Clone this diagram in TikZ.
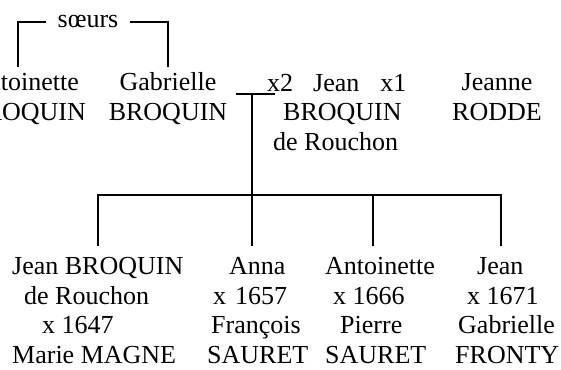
\documentclass[tikz,border=0pt]{standalone}
\usepackage{fontspec}
\setmainfont{Liberation Serif}
\begin{document}
\begin{tikzpicture}[x=1pt,y=-1pt,
  txt/.style={inner sep=0pt,font=\fontsize{26pt}{29.5pt}\selectfont},
  ln/.style={line width=1.1pt}]
\useasboundingbox (0,0) rectangle (561,369);
\clip (0,0) rectangle (561,369);
% top row (base anchor = last line's baseline)
\node[txt,anchor=base] (soeurs) at (88,28) {sœurs};
\node[txt,align=right,anchor=base east] (ant) at (86,120) {Antoinette\rule{7pt}{0pt}\\BROQUIN};
\node[txt,align=center,anchor=base] (gab) at (168,120) {Gabrielle\\BROQUIN};
\node[txt,align=left,anchor=base west] (jean) at (267,150) {x2\hspace{20pt}Jean\hspace{21pt}x1\\\rule{16pt}{0pt}BROQUIN\\\rule{6pt}{0pt}de Rouchon};
\node[txt,align=center,anchor=base] (jeanne) at (497,120) {Jeanne\\RODDE};
% bottom row
\node[txt,align=left,anchor=base west] (c1) at (12,363) {Jean BROQUIN\\\rule{12pt}{0pt}de Rouchon\\\rule{30pt}{0pt}x 1647\\Marie MAGNE};
\node[txt,align=left,anchor=base west] (c2) at (207,363) {\rule{22pt}{0pt}Anna\\\rule{6pt}{0pt}x\hspace{9pt}1657\\\rule{4pt}{0pt}François\\SAURET};
\node[txt,align=left,anchor=base west] (c3) at (325,363) {Antoinette\\\rule{8pt}{0pt}x 1666\\\rule{15pt}{0pt}Pierre\\SAURET};
\node[txt,align=left,anchor=base west] (c4) at (455,363) {\rule{22pt}{0pt}Jean\\\rule{12pt}{0pt}x 1671\\\rule{3pt}{0pt}Gabrielle\\FRONTY};
% connector points
\coordinate (antTop) at (18,67);
\coordinate (gabTop) at (168,67);
\coordinate (m1) at (236,94);
\coordinate (m2) at (275,94);
\coordinate (mid) at (252,94);
\coordinate (bar) at (252,195);
\coordinate (t1) at (98,246);
\coordinate (t2) at (252,246);
\coordinate (t3) at (373,246);
\coordinate (t4) at (501,246);
% connectors
\draw[ln] ([xshift=-11pt]soeurs.west) -| (antTop);
\draw[ln] ([xshift=11pt]soeurs.east) -| (gabTop);
\draw[ln] (m1) -- (m2);
\draw[ln] (mid) -- (bar);
\draw[ln] (t1) |- (bar) -| (t4);
\draw[ln] (bar) -- (t2);
\draw[ln] (t3) -- (t3 |- bar);
\end{tikzpicture}
\end{document}
